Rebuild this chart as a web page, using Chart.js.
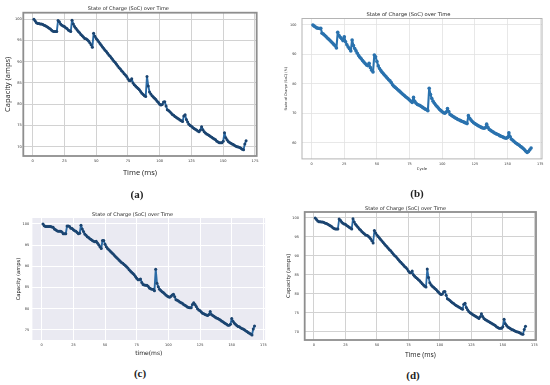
<!DOCTYPE html>
<html><head><meta charset="utf-8">
<script src="https://cdn.jsdelivr.net/npm/chart.js@4.4.0/dist/chart.umd.min.js"></script>
<style>
html,body{margin:0;padding:0;background:#fff}
body{width:550px;height:385px;position:relative;overflow:hidden}
.p{position:absolute}
.p canvas{display:block}
.cap{position:absolute;font-family:"Liberation Serif",serif;font-weight:bold;font-size:11px;color:#222;line-height:12px;transform:translateX(-50%);white-space:nowrap}
</style></head><body>
<div class="p" style="left:0;top:0"><canvas id="ca" width="275" height="182"></canvas></div>
<div class="p" style="left:275px;top:0"><canvas id="cb" width="275" height="182"></canvas></div>
<div class="p" style="left:0;top:190px"><canvas id="cc" width="275" height="175"></canvas></div>
<div class="p" style="left:275px;top:190px"><canvas id="cd" width="275" height="175"></canvas></div>
<div class="cap" style="left:137px;top:188px">(a)</div>
<div class="cap" style="left:417px;top:187px">(b)</div>
<div class="cap" style="left:140px;top:367px">(c)</div>
<div class="cap" style="left:413px;top:369px">(d)</div>
<script>
const cycles = [1,2,3,4,5,6,7,8,9,10,11,12,13,14,15,16,17,18,19,20,21,22,23,24,25,26,27,28,29,30,31,32,33,34,35,36,37,38,39,40,41,42,43,44,45,46,47,48,49,50,51,52,53,54,55,56,57,58,59,60,61,62,63,64,65,66,67,68,69,70,71,72,73,74,75,76,77,78,79,80,81,82,83,84,85,86,87,88,89,90,91,92,93,94,95,96,97,98,99,100,101,102,103,104,105,106,107,108,109,110,111,112,113,114,115,116,117,118,119,120,121,122,123,124,125,126,127,128,129,130,131,132,133,134,135,136,137,138,139,140,141,142,143,144,145,146,147,148,149,150,151,152,153,154,155,156,157,158,159,160,161,162,163,164,165,166,167,168];

// Panels (a) and (d): Capacity (amps)
const capacityA = [
100.0,99.6,99.2,99.0,99.0,98.9,98.9,98.8,98.6,98.5,
98.3,98.1,97.9,97.7,97.4,97.2,97.1,97.1,97.1,99.7,
99.4,98.9,98.6,98.4,98.3,98.0,97.8,97.5,97.3,97.1,
99.8,98.9,98.3,97.9,97.5,97.1,96.8,96.4,96.1,95.8,
95.5,95.4,95.2,94.9,94.5,94.0,93.4,96.7,96.0,95.5,
95.1,94.7,94.3,93.9,93.5,93.1,92.7,92.4,92.0,91.6,
91.3,90.9,90.5,90.1,89.8,89.4,89.0,88.6,88.3,87.9,
87.6,87.2,86.9,86.5,86.0,85.6,85.5,86.0,85.0,84.6,
84.3,84.0,83.7,83.4,83.0,82.6,82.3,82.0,81.8,86.5,
84.3,82.9,82.4,82.0,81.7,81.4,81.1,80.7,80.4,80.0,
79.8,79.9,80.5,80.6,79.6,78.7,78.5,78.2,77.9,77.6,
77.4,77.1,76.9,76.7,76.5,76.3,76.1,75.9,77.2,77.5,
76.4,75.8,75.3,75.0,74.8,74.5,74.3,74.1,73.9,73.7,
73.5,73.9,74.7,74.0,73.5,73.2,73.0,72.8,72.6,72.4,
72.2,72.0,71.8,71.6,71.3,71.1,70.9,70.9,70.9,71.3,
73.3,72.1,71.6,71.2,71.0,70.8,70.6,70.5,70.3,70.1,
70.0,69.9,69.8,69.6,69.4,69.3,70.6,71.4];

// Panel (b): State of Charge (%)
const socB = [
100.0,99.6,99.3,99.0,98.9,98.8,98.9,97.2,96.9,96.5,
96.1,95.6,95.2,94.8,94.3,93.9,93.4,92.9,92.2,97.5,
96.4,95.8,95.3,94.7,96.0,94.3,93.3,92.5,91.9,91.2,
94.9,93.0,92.0,91.2,90.4,89.6,89.0,88.5,87.9,87.4,
86.9,86.4,86.2,87.0,85.5,84.6,84.0,89.8,89.2,87.6,
86.1,85.2,84.5,83.9,83.4,82.9,82.4,81.9,81.4,81.0,
80.4,79.7,79.2,78.8,78.4,78.0,77.6,77.2,76.8,76.4,
76.0,75.6,75.3,74.9,74.5,74.1,73.7,75.4,74.0,73.4,
73.0,72.8,72.6,72.3,72.0,71.7,71.4,71.2,70.9,78.5,
76.4,75.0,74.1,73.4,72.8,72.3,71.8,71.3,70.9,70.5,
70.2,70.0,70.4,71.6,70.6,69.6,69.3,69.0,68.7,68.4,
68.2,67.9,67.7,67.5,67.3,67.1,66.9,66.7,66.5,69.2,
68.3,67.7,67.2,66.8,66.5,66.2,65.9,65.7,65.4,65.2,
65.0,64.9,65.1,66.3,65.2,64.5,64.2,63.9,63.6,63.3,
63.1,62.9,62.7,62.4,62.2,62.0,61.8,61.6,61.5,61.8,
63.4,62.0,61.2,60.8,60.4,60.0,59.7,59.4,59.1,58.7,
58.4,58.0,57.6,57.1,56.7,57.0,57.6,58.2];

// Panel (c): Capacity (amps)
const capacityC = [
100.0,99.6,99.4,99.4,99.4,99.4,99.4,99.3,99.2,98.8,
98.6,98.4,98.3,98.3,98.3,98.1,97.7,97.7,97.7,99.5,
99.5,99.4,99.0,98.9,98.6,98.4,98.3,98.0,97.7,97.8,
99.7,98.8,98.2,97.6,97.3,97.0,96.8,96.5,96.3,96.1,
95.9,95.8,95.9,95.5,95.1,94.6,94.2,96.1,96.1,95.2,
94.6,94.2,93.9,93.6,93.3,93.0,92.7,92.4,92.1,91.8,
91.5,91.2,90.9,90.7,90.4,90.2,89.9,89.6,89.2,88.9,
88.6,88.3,88.0,87.6,87.2,86.8,86.8,87.0,86.2,85.7,
85.6,85.5,85.5,85.3,84.9,84.7,84.6,84.6,84.2,89.3,
86.0,85.2,84.6,84.3,84.0,83.8,83.5,83.2,83.0,82.8,
82.7,82.9,83.2,83.4,82.8,82.1,82.0,81.8,81.6,81.4,
81.3,81.0,80.8,80.6,80.4,80.3,80.2,80.2,81.0,81.4,
81.0,80.5,80.0,79.7,79.5,79.2,78.9,78.8,78.6,78.5,
78.4,78.6,79.3,78.6,78.4,78.2,78.0,77.8,77.7,77.5,
77.3,77.1,76.9,76.7,76.5,76.3,76.1,76.1,76.3,77.7,
77.0,76.6,76.3,76.0,75.8,75.7,75.5,75.3,75.2,75.0,
74.8,74.6,74.4,74.2,74.0,73.8,75.2,75.9];

const xTicks = [0,25,50,75,100,125,150,175];
const yTicksA = [70,75,80,85,90,95,100];
const yTicksB = [60,70,80,90,100];
const yTicksC = [75,80,85,90,95,100];

const titleText = 'State of Charge (SoC) over Time';

const framePlugin = {
  id: 'frame',
  beforeDraw(chart, args, o) {
    if (!o || !o.bg) return;
    const a = chart.chartArea, ctx = chart.ctx;
    ctx.save(); ctx.fillStyle = o.bg; ctx.fillRect(a.left, a.top, a.width, a.height); ctx.restore();
  },
  afterDraw(chart, args, o) {
    if (!o || !o.width) return;
    const a = chart.chartArea, ctx = chart.ctx;
    ctx.save(); ctx.strokeStyle = o.color; ctx.lineWidth = o.width;
    ctx.strokeRect(a.left, a.top, a.width, a.height); ctx.restore();
  }
};

function panel(id, c) {
  const cv = document.getElementById(id);
  const W = cv.width, H = cv.height, P = c.plot;
  const tl = c.titleSize * 1.2, xl = c.xtSize * 1.2, yl = c.ytSize * 1.2, kl = c.tickSize * 1.2;
  return new Chart(cv, {
    type: 'line',
    data: { datasets: [{
      data: c.values.map((v, i) => ({ x: cycles[i], y: v })),
      borderColor: c.line, borderWidth: c.lw,
      borderJoinStyle: 'round', borderCapStyle: 'round',
      pointRadius: c.pr, pointBackgroundColor: c.pt, pointBorderWidth: 0,
      pointHoverRadius: c.pr, tension: 0, fill: false
    }]},
    options: {
      responsive: false, animation: false, devicePixelRatio: 1,
      layout: { padding: { left: 0, right: W - P.r, top: 0, bottom: 0 } },
      plugins: {
        legend: { display: false }, tooltip: { enabled: false },
        title: { display: true, text: titleText, color: '#262626',
          font: { family: 'DejaVu Sans', size: c.titleSize, weight: 'normal' },
          padding: { top: c.titleY - tl / 2, bottom: P.t - c.titleY - tl / 2 } },
        frame: { bg: c.bg, color: c.frame, width: c.frameW }
      },
      scales: {
        x: {
          type: 'linear', min: -7.35, max: 176.35,
          afterBuildTicks: s => { s.ticks = xTicks.map(v => ({ value: v })); },
          afterFit: s => { s.height = H - P.b; },
          grid: { color: c.grid, lineWidth: c.gw, drawTicks: false },
          border: { display: false },
          ticks: { autoSkip: false, maxRotation: 0, color: '#333',
            font: { family: 'DejaVu Sans', size: c.tickSize },
            padding: c.xTickY - P.b - kl / 2 },
          title: { display: true, text: c.xt, color: '#222',
            font: { family: c.labFont, size: c.xtSize },
            padding: { top: 0, bottom: H - c.xTitleY - xl / 2 } }
        },
        y: {
          type: 'linear', min: c.ymin, max: c.ymax,
          afterBuildTicks: s => { s.ticks = c.yTicks.map(v => ({ value: v })); },
          afterFit: s => { s.width = P.l; },
          grid: { color: c.grid, lineWidth: c.gw, drawTicks: false },
          border: { display: false },
          ticks: { autoSkip: false, color: '#333',
            font: { family: 'DejaVu Sans', size: c.tickSize },
            padding: P.l - c.yTickR },
          title: { display: true, text: c.yt, color: '#222',
            font: { family: c.labFont, size: c.ytSize },
            padding: { top: c.yTitleX - yl / 2, bottom: 0 } }
        }
      }
    },
    plugins: [framePlugin]
  });
}

panel('ca', { values: capacityA, yTicks: yTicksA, ymin: 67.8, ymax: 101.55,
  plot: { l: 23.3, r: 256.7, t: 12.7, b: 156 },
  titleSize: 5, titleY: 8.3, tickSize: 3.6, xTickY: 161, yTickR: 21.8,
  labFont: 'Open Sans', xt: 'Time (ms)', xtSize: 7.5, xTitleY: 172.7,
  yt: 'Capacity (amps)', ytSize: 7.5, yTitleX: 8.3,
  line: '#2a6aa5', pt: '#1b4470', lw: 1.9, pr: 1.5,
  grid: '#d2d2d2', gw: 1, frame: '#8e8e8e', frameW: 1.8 });

panel('cb', { values: socB, yTicks: yTicksB, ymin: 54.5, ymax: 102.2,
  plot: { l: 27, r: 267, t: 18.5, b: 158.9 },
  titleSize: 5.2, titleY: 14.3, tickSize: 3.4, xTickY: 164, yTickR: 21.5,
  labFont: 'DejaVu Sans', xt: 'Cycle', xtSize: 3.8, xTitleY: 169.5,
  yt: 'State of Charge (SoC) (%)', ytSize: 3.4, yTitleX: 11,
  line: '#2a72ae', pt: '#2a72ae', lw: 2.1, pr: 1.8,
  grid: '#e2e2e2', gw: 0.8, frame: '#b4b4b4', frameW: 1 });

panel('cc', { values: capacityC, yTicks: yTicksC, ymin: 72.6, ymax: 101.4,
  plot: { l: 32.4, r: 265.1, t: 28, b: 150 },
  titleSize: 5, titleY: 25, tickSize: 3.5, xTickY: 155, yTickR: 29.3,
  labFont: 'DejaVu Sans', xt: 'time(ms)', xtSize: 6, xTitleY: 163.3,
  yt: 'Capacity (amps)', ytSize: 5.2, yTitleX: 18.3,
  line: '#2a6aa5', pt: '#1b4470', lw: 1.9, pr: 1.5,
  grid: '#ffffff', gw: 1, bg: '#eaeaf2', frameW: 0 });

panel('cd', { values: capacityA, yTicks: yTicksA, ymin: 67.8, ymax: 101.55,
  plot: { l: 29.7, r: 261, t: 22, b: 150 },
  titleSize: 5, titleY: 18.3, tickSize: 3.5, xTickY: 155, yTickR: 24,
  labFont: 'Open Sans', xt: 'Time (ms)', xtSize: 6.8, xTitleY: 165,
  yt: 'Capacity (amps)', ytSize: 6, yTitleX: 13.3,
  line: '#2a6aa5', pt: '#1b4470', lw: 1.8, pr: 1.5,
  grid: '#d2d2d2', gw: 1, frame: '#8e8e8e', frameW: 1.8 });
</script>
</body></html>
